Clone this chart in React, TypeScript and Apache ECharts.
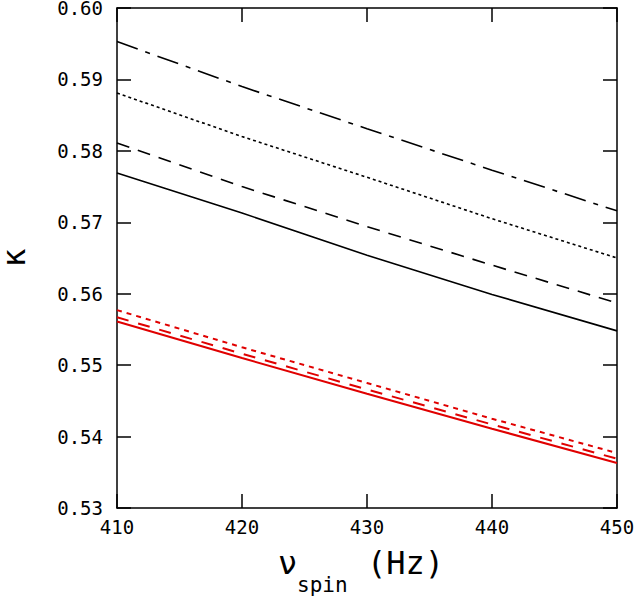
import React, { useEffect, useRef } from "react";
import * as echarts from "echarts";

const spin = [410, 420, 430, 440, 450];
const xTicks = [410, 420, 430, 440, 450];
const yTicks = [0.53, 0.54, 0.55, 0.56, 0.57, 0.58, 0.59, 0.6];

const blackSolid = [0.5769, 0.5713, 0.5654, 0.5599, 0.5548];
const blackDashed = [0.5811, 0.575, 0.5694, 0.564, 0.5587];
const blackDotted = [0.5881, 0.582, 0.5763, 0.5705, 0.565];
const blackDashDot = [0.5953, 0.589, 0.5831, 0.5773, 0.5716];
const redSolid = [0.5561, 0.551, 0.546, 0.5411, 0.5363];
const redDashed = [0.5567, 0.5516, 0.5466, 0.5417, 0.5369];
const redDotted = [0.5577, 0.5525, 0.5475, 0.5425, 0.5377];

const FONT = "DejaVu Sans Mono";

function pairs(ys: number[]) {
  return spin.map((x, i) => [x, ys[i]]);
}

export default function App() {
  const ref = useRef<HTMLDivElement>(null);
  useEffect(() => {
    if (!ref.current) return;
    const chart = echarts.init(ref.current, null, { renderer: "svg" });
    const mkLine = (name: string, ys: number[], color: string, type: any, width: number) => ({
      name,
      type: "line",
      data: pairs(ys),
      showSymbol: false,
      symbol: "none",
      smooth: false,
      lineStyle: { color, width, type },
      silent: true,
    });
    const xMin = xTicks[0];
    const xMax = xTicks[xTicks.length - 1];
    const yMin = yTicks[0];
    const yMax = yTicks[yTicks.length - 1];
    const tickStyle = { show: true, inside: true, length: 14, lineStyle: { color: "#000", width: 1.5 } };
    const axisLine = { show: true, lineStyle: { color: "#000", width: 1.5 } };
    chart.setOption({
      animation: false,
      backgroundColor: "#fff",
      grid: { left: 117, right: 18, top: 8, bottom: 96, containLabel: false, outerBoundsMode: "none" },
      xAxis: [
        {
          type: "value",
          min: xMin,
          max: xMax,
          interval: 10,
          position: "bottom",
          axisLine,
          axisTick: tickStyle,
          splitLine: { show: false },
          axisLabel: { fontFamily: FONT, fontSize: 19, color: "#000", margin: 9 },
        },
        {
          type: "value",
          min: xMin,
          max: xMax,
          interval: 10,
          position: "top",
          axisLine,
          axisTick: tickStyle,
          splitLine: { show: false },
          axisLabel: { show: false },
        },
      ],
      yAxis: [
        {
          type: "value",
          min: yMin,
          max: yMax,
          interval: 0.01,
          position: "left",
          axisLine,
          axisTick: tickStyle,
          splitLine: { show: false },
          axisLabel: {
            fontFamily: FONT,
            fontSize: 19,
            color: "#000",
            margin: 14,
            formatter: (v: number) => v.toFixed(2),
          },
          name: "κ",
          nameLocation: "middle",
          nameRotate: 90,
          nameGap: 88,
          nameTextStyle: { fontFamily: FONT, fontSize: 31, color: "#000" },
        },
        {
          type: "value",
          min: yMin,
          max: yMax,
          interval: 0.01,
          position: "right",
          axisLine,
          axisTick: tickStyle,
          splitLine: { show: false },
          axisLabel: { show: false },
        },
      ],
      graphic: [
        {
          type: "text",
          left: 278,
          top: 547,
          style: { text: "ν", font: `32px ${FONT}`, fill: "#000" },
        },
        {
          type: "text",
          left: 297,
          top: 574,
          style: { text: "spin", font: `21px ${FONT}`, fill: "#000" },
        },
        {
          type: "text",
          left: 367,
          top: 547,
          style: { text: "(Hz)", font: `32px ${FONT}`, fill: "#000" },
        },
      ],
      series: [
        mkLine("blackSolid", blackSolid, "#000", "solid", 1.6),
        mkLine("blackDashed", blackDashed, "#000", [13, 9], 1.6),
        mkLine("blackDotted", blackDotted, "#000", [3, 3], 1.6),
        mkLine("blackDashDot", blackDashDot, "#000", [22, 8, 5, 8], 1.6),
        mkLine("redSolid", redSolid, "#e00000", "solid", 2),
        mkLine("redDashed", redDashed, "#e00000", [12, 10], 2),
        mkLine("redDotted", redDotted, "#e00000", [5, 5], 2),
      ],
    });
    return () => chart.dispose();
  }, []);
  return (
    <div
      ref={ref}
      style={{ position: "fixed", left: 0, top: 0, width: 635, height: 604 }}
    />
  );
}
